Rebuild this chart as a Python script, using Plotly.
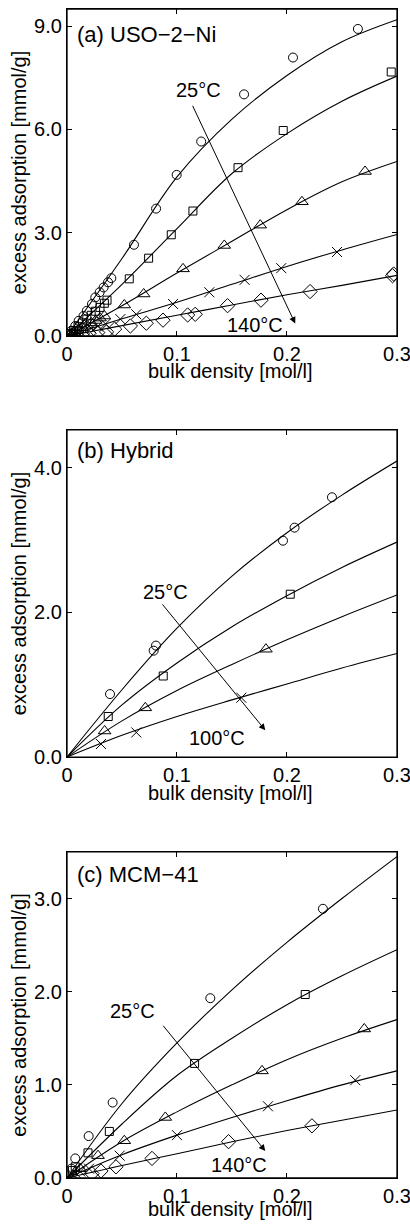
# Excess adsorption isotherms on three sorbents: measured points and fitted curves.
import plotly.graph_objects as go
from plotly.subplots import make_subplots

# fitted curves, read at fixed bulk densities [mol/l]
fit_x = [0, 0.05, 0.1, 0.15, 0.2, 0.25, 0.3]

uso_fit = [
    [0, 2.25, 4.62, 6.3, 7.57, 8.55, 9.19],
    [0, 1.5, 3.12, 4.72, 5.88, 6.82, 7.55],
    [0, 0.88, 1.83, 2.75, 3.67, 4.48, 5.07],
    [0, 0.5, 0.98, 1.5, 2.02, 2.5, 2.95],
    [0, 0.3, 0.6, 0.9, 1.2, 1.47, 1.76],
]
hyb_fit = [
    [0, 0.93, 1.78, 2.5, 3.1, 3.62, 4.09],
    [0, 0.72, 1.3, 1.8, 2.23, 2.62, 2.97],
    [0, 0.5, 0.92, 1.28, 1.62, 1.94, 2.24],
    [0, 0.3, 0.56, 0.79, 1.01, 1.23, 1.43],
]
mcm_fit = [
    [0, 0.8, 1.45, 2.02, 2.53, 3.0, 3.45],
    [0, 0.58, 1.1, 1.5, 1.86, 2.17, 2.45],
    [0, 0.39, 0.71, 1.0, 1.27, 1.5, 1.7],
    [0, 0.25, 0.46, 0.65, 0.83, 1.0, 1.15],
    [0, 0.135, 0.26, 0.39, 0.51, 0.62, 0.73],
]

# measured points (x = bulk density, y = excess adsorption)
uso_pts = [
    ([0.004, 0.0075, 0.0106, 0.015, 0.018, 0.0227, 0.0257, 0.0297, 0.0333, 0.0373,
      0.0403, 0.0609, 0.081, 0.0997, 0.122, 0.161, 0.2055, 0.2645],
     [0.15, 0.29, 0.44, 0.58, 0.73, 0.93, 1.12, 1.27, 1.41, 1.56,
      1.68, 2.65, 3.70, 4.68, 5.65, 7.02, 8.09, 8.92]),
    ([0.003, 0.006, 0.010, 0.014, 0.018, 0.022, 0.026, 0.030, 0.034, 0.0364,
      0.0566, 0.0742, 0.0948, 0.1145, 0.1555, 0.1966, 0.2948],
     [0.07, 0.16, 0.27, 0.38, 0.49, 0.6, 0.72, 0.83, 0.95, 1.04,
      1.66, 2.26, 2.94, 3.63, 4.89, 5.97, 7.67]),
    ([0.003, 0.006, 0.010, 0.014, 0.018, 0.022, 0.026, 0.030, 0.034, 0.0521,
      0.0697, 0.1055, 0.143, 0.1757, 0.2136, 0.271],
     [0.05, 0.1, 0.17, 0.24, 0.31, 0.38, 0.45, 0.52, 0.58, 0.90,
      1.22, 1.95, 2.63, 3.22, 3.90, 4.78]),
    ([0.005, 0.010, 0.016, 0.022, 0.028, 0.035, 0.0485, 0.063, 0.0964, 0.1294,
      0.1615, 0.1948, 0.2455],
     [0.05, 0.10, 0.16, 0.22, 0.28, 0.35, 0.49, 0.63, 0.93, 1.27,
      1.63, 1.97, 2.44]),
    ([0.004, 0.008, 0.014, 0.020, 0.028, 0.036, 0.0433, 0.0576, 0.0721, 0.0873,
      0.1097, 0.1166, 0.146, 0.1764, 0.221, 0.296, 0.297],
     [0.02, 0.04, 0.06, 0.08, 0.10, 0.12, 0.20, 0.29, 0.37, 0.46,
      0.61, 0.63, 0.88, 1.04, 1.29, 1.75, 1.80]),
]
hyb_pts = [
    ([0.0391, 0.0788, 0.0809, 0.1964, 0.2069, 0.2409], [0.87, 1.47, 1.54, 2.99, 3.17, 3.59]),
    ([0.0375, 0.0875, 0.203], [0.56, 1.12, 2.25]),
    ([0.0342, 0.0712, 0.1809], [0.36, 0.68, 1.49]),
    ([0.0309, 0.063, 0.1585], [0.18, 0.34, 0.82]),
]
mcm_pts = [
    ([0.004, 0.0075, 0.0197, 0.0415, 0.1303, 0.2327], [0.1, 0.21, 0.45, 0.81, 1.93, 2.89]),
    ([0.005, 0.0075, 0.0191, 0.0385, 0.116, 0.2166], [0.08, 0.12, 0.27, 0.50, 1.23, 1.97]),
    ([0.012, 0.0282, 0.0521, 0.0894, 0.1773, 0.2703], [0.1, 0.24, 0.40, 0.65, 1.15, 1.60]),
    ([0.006, 0.012, 0.02, 0.0479, 0.1, 0.1827, 0.2621], [0.03, 0.07, 0.1, 0.24, 0.46, 0.77, 1.05]),
    ([0.006, 0.0227, 0.0309, 0.0445, 0.0773, 0.1469, 0.2227], [0.0, 0.047, 0.075, 0.12, 0.21, 0.39, 0.56]),
]

symbols = ["circle-open", "square-open", "triangle-up-open", "x-thin-open", "diamond-open"]
sizes = [9, 8, 11, 10, 11]

panels = [
    ("(a) USO−2−Ni", uso_fit, uso_pts, [0, 9.5], [0, 3, 6, 9],
     "25°C", "140°C", (0.1197, 7.14), (0.1706, 0.32), (0.1136, 6.73), (0.2075, 0.36)),
    ("(b) Hybrid", hyb_fit, hyb_pts, [0, 4.52], [0, 2, 4],
     "25°C", "100°C", (0.0894, 2.28), (0.1364, 0.27), (0.0857, 2.13), (0.1803, 0.37)),
    ("(c) MCM−41", mcm_fit, mcm_pts, [0, 3.5], [0, 1, 2, 3],
     "25°C", "140°C", (0.06, 1.79), (0.156, 0.14), (0.0864, 1.65), (0.1803, 0.29)),
]

domains = [[0.7203, 1.0], [0.3601, 0.6399], [0.0, 0.2789]]
title_y = [0.9778, 0.6219, 0.2598]
xtitle_y = [0.6903, 0.3293, -0.0265]

FONT = "Liberation Sans, Arial, sans-serif"

fig = make_subplots(rows=3, cols=1)

for i, (title, fits, pts, yrange, yticks, t_hi, t_lo, p_hi, p_lo, a0, a1) in enumerate(panels):
    row = i + 1
    for fy in fits:
        fig.add_trace(go.Scatter(x=fit_x, y=fy, mode="lines", line_shape="spline",
                                 line=dict(color="black", width=1.1), showlegend=False),
                      row=row, col=1)
    for k, (px, py) in enumerate(pts):
        fig.add_trace(go.Scatter(x=px, y=py, mode="markers", showlegend=False,
                                 marker=dict(symbol=symbols[k], size=sizes[k], color="black",
                                             line=dict(color="black", width=1))),
                      row=row, col=1)
    sfx = "" if row == 1 else str(row)
    xr, yr = "x" + sfx, "y" + sfx
    # frame round the panel
    fig.add_shape(type="rect", xref=xr + " domain", yref=yr + " domain",
                  x0=0, x1=1, y0=0, y1=1, line=dict(color="black", width=1.3))
    fig.add_annotation(xref=xr, yref=yr, x=a1[0], y=a1[1], ax=a0[0], ay=a0[1],
                       axref=xr, ayref=yr, showarrow=True, arrowhead=2, arrowsize=1.3,
                       arrowwidth=1, arrowcolor="black", text="")
    fig.add_annotation(xref=xr, yref=yr, x=p_hi[0], y=p_hi[1], text=t_hi, showarrow=False,
                       font=dict(size=20, color="black"))
    fig.add_annotation(xref=xr, yref=yr, x=p_lo[0], y=p_lo[1], text=t_lo, showarrow=False,
                       font=dict(size=20, color="black"))
    fig.add_annotation(xref="paper", yref="paper", x=0.025, y=title_y[i],
                       xanchor="left", yanchor="middle", text=title, showarrow=False,
                       font=dict(size=22, color="black"))
    fig.add_annotation(xref="paper", yref="paper", x=0.496, y=xtitle_y[i],
                       xanchor="center", yanchor="middle", text="bulk density [mol/l]",
                       showarrow=False, font=dict(size=20, color="black"))

    fig.update_xaxes(range=[0, 0.30005], tickvals=[0, 0.1, 0.2, 0.3],
                     ticktext=["0", "0.1", "0.2", "0.3"], row=row, col=1)
    fig.update_yaxes(range=yrange, tickvals=yticks, tickformat=".1f", domain=domains[i],
                     title=dict(text="excess adsorption [mmol/g]", standoff=2),
                     row=row, col=1)

fig.update_xaxes(showline=True, linecolor="black", linewidth=1.3, mirror="allticks",
                 ticks="inside", ticklen=5, tickcolor="black", showgrid=False,
                 zeroline=False, automargin=False, ticklabeloverflow="allow",
                 tickfont=dict(size=20))
fig.update_yaxes(showline=True, linecolor="black", linewidth=1.3, mirror="allticks",
                 ticks="inside", ticklen=5, tickcolor="black", showgrid=False,
                 zeroline=False, automargin=False, ticklabeloverflow="allow",
                 tickfont=dict(size=20), title_font=dict(size=20))

fig.update_layout(
    width=410, height=1224,
    margin=dict(l=67, r=13, t=9, b=46),
    plot_bgcolor="white", paper_bgcolor="white",
    font=dict(family=FONT, color="black", size=20),
)

# drop the page's default body margin so the figure fills the window without scrollbars
fig.write_html("out.html", config={"displayModeBar": False},
               post_script="document.body.style.margin='0';document.body.style.overflow='hidden';")
